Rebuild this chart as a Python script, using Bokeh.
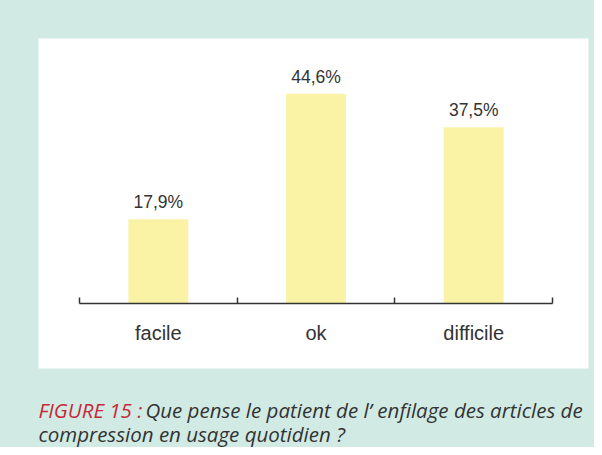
from bokeh.plotting import figure
from bokeh.layouts import column
from bokeh.models import FixedTicker, Range1d, ColumnDataSource
from bokeh.core.properties import value
from bokeh.embed import file_html
from bokeh.resources import INLINE

categories = ["facile", "ok", "difficile"]
percent = [17.9, 44.6, 37.5]
labels = ["17,9%", "44,6%", "37,5%"]
caption_head = "FIGURE 15 :"
caption_line1 = "Que pense le patient de l’ enfilage des articles de"
caption_line2 = "compression en usage quotidien ?"

TEAL = "#d1ebe4"
BAR = "#faf3a6"
TXT = "#333333"
RED = "#c5283a"

W = 594
L, R = 38, 6
centers = [i + 0.5 for i in range(len(categories))]
src = ColumnDataSource(dict(x=centers, top=percent, lab=labels))

p = figure(width=W, height=378, output_backend="svg", toolbar_location=None,
           x_range=Range1d(-0.26, 3.228), y_range=Range1d(-13.83, 56.38),
           min_border_left=L, min_border_top=38, min_border_right=R, min_border_bottom=10)
p.border_fill_color = TEAL
p.background_fill_color = "white"
p.outline_line_color = None
p.grid.visible = False
p.yaxis.visible = False

p.vbar(x="x", top="top", bottom=0, width=0.38, source=src, fill_color=BAR, line_color=None)
p.text(x="x", y="top", text="lab", source=src, y_offset=-17, text_align="center",
       text_baseline="alphabetic", text_font=value("Liberation Sans"),
       text_font_size="17.5px", text_color=TXT)

ax = p.xaxis[0]
ax.fixed_location = 0
ax.bounds = (0, len(categories))
ax.ticker = FixedTicker(ticks=centers, minor_ticks=list(range(len(categories) + 1)))
ax.major_label_overrides = {c: n for c, n in zip(centers, categories)}
ax.major_tick_in = 0
ax.major_tick_out = 0
ax.minor_tick_in = 6
ax.minor_tick_out = 0
ax.minor_tick_line_color = TXT
ax.minor_tick_line_width = 1.5
ax.axis_line_color = TXT
ax.axis_line_width = 1.5
ax.major_label_standoff = 19
ax.major_label_text_font = "Liberation Sans"
ax.major_label_text_font_size = "20px"
ax.major_label_text_color = TXT

# caption panel (its frame is aligned with the chart frame by the column layout)
CH = 69
c = figure(width=W, height=CH, output_backend="svg", toolbar_location=None,
           x_range=Range1d(L, W - R), y_range=Range1d(0, CH),
           x_axis_type=None, y_axis_type=None,
           min_border_left=L, min_border_right=R, min_border_top=0, min_border_bottom=0)
c.grid.visible = False
c.outline_line_color = None
c.background_fill_color = TEAL
c.border_fill_color = TEAL
cap = ColumnDataSource(dict(x=[38, 145, 38], y=[38, 38, 14],
                            t=[caption_head, caption_line1, caption_line2],
                            col=[RED, TXT, TXT]))
c.text(x="x", y="y", text="t", text_color="col", source=cap, text_font=value("Open Sans"),
       text_font_style="italic", text_font_size="20.5px", text_baseline="alphabetic",
       text_align="left")

layout = column(p, c, spacing=0, styles={"background-color": TEAL})
open("out.html", "w").write(file_html(layout, INLINE))
